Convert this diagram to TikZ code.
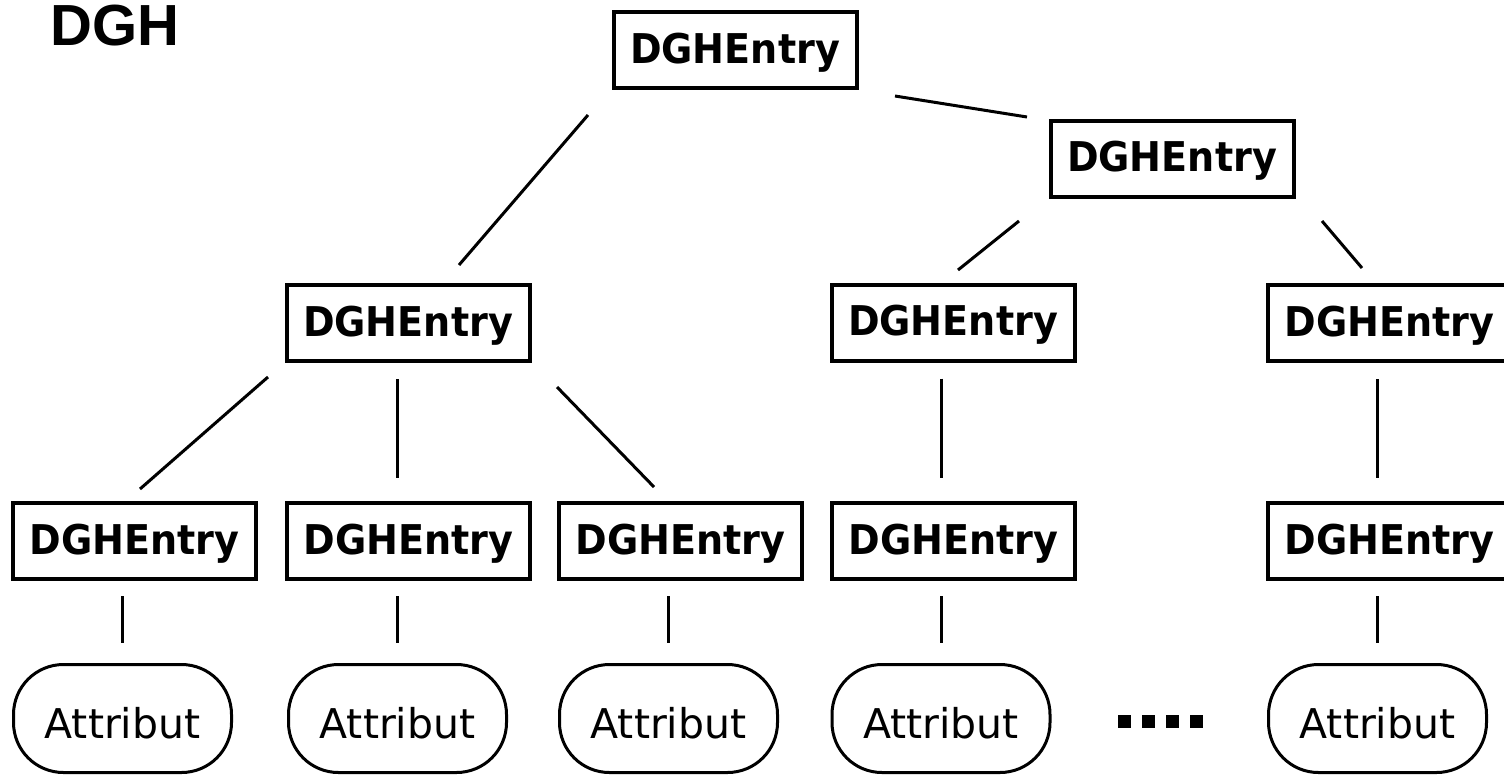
\documentclass[tikz,border=0pt]{standalone}
\usepackage{fontspec}
\setmainfont{DejaVu Sans}
\newfontfamily\titlefont{Liberation Sans}
\newfontfamily\entryfont[FakeStretch=0.93]{DejaVu Sans}

\tikzset{
  entry/.style={draw, line width=4pt, minimum width=243pt, minimum height=76pt,
    inner sep=0pt, text height=30pt, text depth=4pt,
    font=\entryfont\bfseries\fontsize{41pt}{45pt}\selectfont},
  attr/.style={draw, line width=3pt, rounded corners=50pt, minimum width=218pt,
    minimum height=108pt, inner sep=0pt, text height=39pt, text depth=0pt,
    font=\fontsize{41pt}{45pt}\selectfont},
  link/.style={line width=3pt},
}

\begin{document}
\begin{tikzpicture}[x=1pt, y=-1pt]
\useasboundingbox (0,0) rectangle (1504,777);

% title
\node[anchor=base west, inner sep=0pt,
      font=\titlefont\bfseries\fontsize{58pt}{64pt}\selectfont] (title) at (50,45) {DGH};

% hierarchy entries
\node[entry] (root) at (735,50)      {DGHEntry};
\node[entry] (r1)   at (1172,158.5)  {DGHEntry};
\node[entry] (m1)   at (408,323)     {DGHEntry};
\node[entry] (m2)   at (953,322.5)   {DGHEntry};
\node[entry] (m3)   at (1389.5,323)  {DGHEntry};
\node[entry] (l1)   at (134.5,541)   {DGHEntry};
\node[entry] (l2)   at (408.5,541)   {DGHEntry};
\node[entry] (l3)   at (680.5,541)   {DGHEntry};
\node[entry] (l4)   at (953.5,541)   {DGHEntry};
\node[entry] (l5)   at (1389.5,541)  {DGHEntry};

% attributes
\node[attr] (a1) at (122.5,718.5) {Attribut};
\node[attr] (a2) at (397.5,718.5) {Attribut};
\node[attr] (a3) at (668.5,718.5) {Attribut};
\node[attr] (a4) at (941,718.5)   {Attribut};
\node[attr] (a5) at (1377.5,718.5) {Attribut};

% ellipsis between the attributes
\foreach \i in {0,...,3}
  \fill ({1118+24*\i},715) rectangle ++(13,13);

% slanted links
\draw[link] ([shift={(160,46)}]root.center)   -- ([shift={(-145,-41.5)}]r1.center);
\draw[link] ([shift={(-147,65)}]root.center)  -- ([shift={(51,-58)}]m1.center);
\draw[link] ([shift={(-153,62.5)}]r1.center)  -- ([shift={(5,-52.5)}]m2.center);
\draw[link] ([shift={(150,62.5)}]r1.center)   -- ([shift={(-27.5,-55)}]m3.center);
\draw[link] ([shift={(-140,54)}]m1.center)    -- ([shift={(5.5,-52)}]l1.center);
\draw[link] ([shift={(149,64)}]m1.center)     -- ([shift={(-26.5,-54)}]l3.center);

% vertical links between entry levels
\draw[link, shorten <=16pt, shorten >=23pt] (a2.north |- m1.south) -- (a2.north |- l2.north);
\draw[link, shorten <=16pt, shorten >=23pt] (a4.north |- m2.south) -- (a4.north |- l4.north);
\draw[link, shorten <=16pt, shorten >=23pt] (a5.north |- m3.south) -- (a5.north |- l5.north);

% links from entries to attributes
\foreach \k in {1,...,5}
  \draw[link, shorten <=15pt, shorten >=20pt] (a\k.north |- l\k.south) -- (a\k.north);
\end{tikzpicture}
\end{document}
